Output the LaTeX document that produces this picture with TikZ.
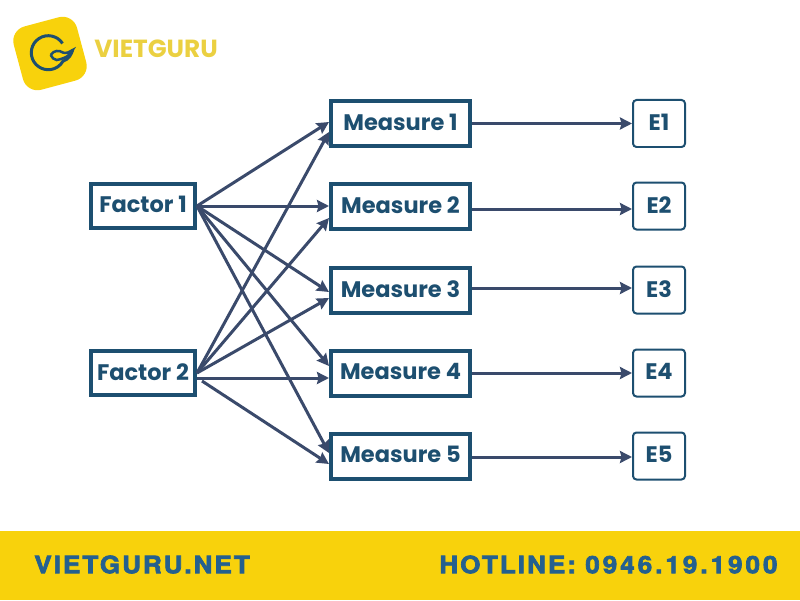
\documentclass[tikz,border=0pt]{standalone}
\usepackage{fontspec}
\setmainfont{Poppins}
\newfontfamily\footfont{TeX Gyre Heros}[BoldFeatures={FakeBold=3,LetterSpace=8.5,FakeStretch=1.09}]
\newfontfamily\footnums{TeX Gyre Heros}[BoldFeatures={FakeBold=3,LetterSpace=12.5,FakeStretch=1.09}]
\usetikzlibrary{arrows.meta}
\definecolor{boxblue}{HTML}{1D4F70}
\definecolor{linkblue}{HTML}{3A4A6B}
\definecolor{guruyellow}{HTML}{F8D20C}
\definecolor{logotext}{HTML}{EBD041}
\definecolor{footblue}{HTML}{24608F}
\tikzset{
  factorbox/.style={draw=boxblue,line width=0.08cm,minimum width=2.08cm,minimum height=0.88cm,text=boxblue,text depth=1.5pt,font=\fontsize{12.8}{14}\selectfont\bfseries,inner sep=0pt},
  measurebox/.style={factorbox,minimum width=2.78cm,minimum height=0.9cm},
  errbox/.style={draw=boxblue,line width=0.04cm,rounded corners=0.07cm,minimum width=1.04cm,minimum height=0.94cm,text=boxblue,text depth=1.5pt,font=\fontsize{12.8}{14}\selectfont\bfseries,inner sep=0pt},
  link/.style={linkblue,line width=0.06cm,-{Stealth[length=0.24cm,width=0.24cm,inset=0.03cm]}},
  foottext/.style={text=footblue,anchor=west,inner sep=0pt,font=\footfont\fontsize{13.6}{16}\selectfont\bfseries}
}
\begin{document}
\begin{tikzpicture}
      \useasboundingbox (0,0) rectangle (16,12);
      % footer and logo
      \fill [guruyellow] (0,0) rectangle (16,1.38);
      \node [foottext] (site) at (0.68,0.71) {VIETGURU.NET};
      \node [foottext] (hot) at (8.78,0.71) {HOTLINE: {\footnums 0946.19.1900}};
      \node [fill=guruyellow,rotate=15,rounded corners=0.3cm,minimum size=1.31cm,inner sep=0pt] (logo) at (1.0,10.93) {};
      \draw [boxblue,line width=0.06cm] (1.251,11.131) arc (33:330:0.34) .. controls (1.38,10.82) and (1.42,10.9) .. (1.454,11.0);
      \draw [boxblue,line width=0.05cm] (1.013,10.9) .. controls (1.08,11.0) and (1.18,11.0) .. (1.266,10.946) .. controls (1.33,10.93) and (1.4,10.96) .. (1.454,11.0) .. controls (1.42,10.9) and (1.3,10.83) .. (1.134,10.8) .. controls (1.08,10.8) and (1.04,10.85) .. (1.013,10.9);
      \node [anchor=west,inner sep=0pt,text=logotext,font=\fontsize{14.1}{16}\selectfont\bfseries] (brand) at (1.88,11.02) {VIETGURU};
      % factors
      \node [factorbox] (f1) at (2.86,7.88) {Factor 1};
      \node [factorbox] (f2) at (2.86,4.54) {Factor 2};
      % measures
      \node [measurebox] (m1) at (8.01,9.53) {Measure 1};
      \node [measurebox] (m2) at (8.01,7.88) {Measure 2};
      \node [measurebox] (m3) at (8.01,6.2) {Measure 3};
      \node [measurebox] (m4) at (8.01,4.54) {Measure 4};
      \node [measurebox] (m5) at (8.01,2.88) {Measure 5};
      % errors
      \node [errbox] (e1) at (13.18,9.53) {E1};
      \node [errbox] (e2) at (13.18,7.88) {E2};
      \node [errbox] (e3) at (13.18,6.2) {E3};
      \node [errbox] (e4) at (13.18,4.54) {E4};
      \node [errbox] (e5) at (13.18,2.88) {E5};
      \draw [link] (f1.east) -- ([yshift=0.03cm]m1.west);
      \draw [link] (f1.east) -- (m2.west);
      \draw [link] (f1.east) -- ([yshift=-0.04cm]m3.west);
      \draw [link] (f1.east) -- ([yshift=0.14cm]m4.west);
      \draw [link] (f1.east) -- ([yshift=0.06cm]m5.west);
      \draw [link] (f2.east) -- ([yshift=-0.17cm]m1.west);
      \draw [link] (f2.east) -- ([yshift=-0.24cm]m2.west);
      \draw [link] (f2.east) -- ([yshift=-0.16cm]m3.west);
      \draw [link] ([yshift=-0.1cm]f2.east) -- ([yshift=-0.1cm]m4.west);
      \draw [link] ([xshift=0.1cm,yshift=-0.16cm]f2.east) -- ([yshift=-0.16cm]m5.west);
      \draw [link] (m1) -- (e1);
      \draw [link] ([yshift=-0.06cm]m2.east) -- ([yshift=-0.06cm]e2.west);
      \draw [link] ([yshift=0.04cm]m3.east) -- ([yshift=0.04cm]e3.west);
      \draw [link] (m4) -- (e4);
      \draw [link] ([yshift=-0.02cm]m5.east) -- ([yshift=-0.02cm]e5.west);
    \end{tikzpicture}
\end{document}
